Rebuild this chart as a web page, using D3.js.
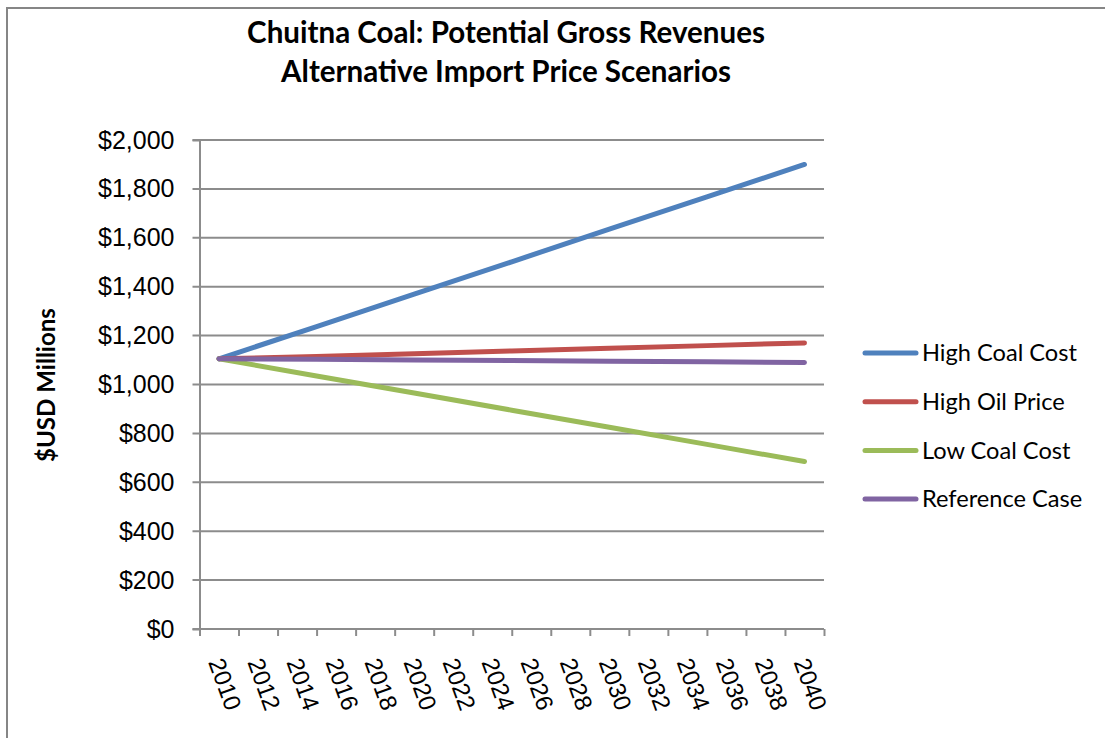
<!DOCTYPE html>
<html>
<head>
<meta charset="utf-8">
<script src="https://cdn.jsdelivr.net/npm/d3@7"></script>
<style>
  body { margin: 0; background: #fff; }
  svg { display: block; }
</style>
</head>
<body>
<div id="chart"></div>
<script>
// Data
var years = [2010, 2015, 2020, 2025, 2030, 2035, 2040];
var highCoal = [1105, 1237, 1370, 1502, 1635, 1767, 1900];
var highOil = [1105, 1115, 1126, 1137, 1148, 1159, 1170];
var lowCoal = [1105, 1035, 965, 895, 825, 755, 685];
var referenceCase = [1105, 1103, 1100, 1098, 1095, 1093, 1090];
var seriesNames = ["High Coal Cost", "High Oil Price", "Low Coal Cost", "Reference Case"];
var seriesColors = ["#4f81bd", "#c0504d", "#9bbb59", "#8064a2"];
var yTicks = [0, 200, 400, 600, 800, 1000, 1200, 1400, 1600, 1800, 2000];
var xLabels = d3.range(2010, 2041, 2);
var xTickYears = d3.range(2009, 2042, 2);

var series = [highCoal, highOil, lowCoal, referenceCase].map(function(vals, i) {
	return { name: seriesNames[i], color: seriesColors[i],
		points: vals.map(function(v, j) { return { year: years[j], v: v }; }) };
});

var cfg = {
	width: 1105,
	height: 738,
	left: 199.5,
	right: 824,
	top: 140,
	bottom: 629
};

var svg = d3.select("#chart").append("svg")
	.attr("width", cfg.width)
	.attr("height", cfg.height);

// outer chart border (right and bottom run off the picture)
svg.append("rect")
	.attr("x", 7).attr("y", 8)
	.attr("width", 1200).attr("height", 900)
	.attr("fill", "none")
	.attr("stroke", "#868686")
	.attr("stroke-width", 2);

var x = d3.scaleLinear().domain([2009, 2041]).range([cfg.left, cfg.right]);
var y = d3.scaleLinear().domain([0, 2000]).range([cfg.bottom, cfg.top]);

// fit a text element to a target width by changing its font size
function fitWidth(sel, target) {
	sel.each(function() {
		var fs = parseFloat(d3.select(this).style("font-size"));
		var w = this.getComputedTextLength();
		d3.select(this).style("font-size", (fs * target / w) + "px");
	});
}

// title
var title = svg.append("g")
	.attr("font-family", "Lato, 'Open Sans', sans-serif")
	.attr("font-weight", "bold")
	.attr("text-anchor", "middle");
fitWidth(title.append("text").attr("x", 506).attr("y", 43).style("font-size", "26px")
	.text("Chuitna Coal: Potential Gross Revenues"), 518);
fitWidth(title.append("text").attr("x", 506).attr("y", 82).style("font-size", "26px")
	.text("Alternative Import Price Scenarios"), 450);

// horizontal gridlines
svg.append("g")
	.selectAll("line")
	.data(yTicks)
	.enter().append("line")
	.attr("x1", cfg.left - 7)
	.attr("x2", cfg.right)
	.attr("y1", function(d) { return y(d); })
	.attr("y2", function(d) { return y(d); })
	.attr("stroke", "#8c8c8c")
	.attr("stroke-width", 2);

// y axis
var yAxis = svg.append("g")
	.attr("transform", "translate(" + cfg.left + ",0)")
	.call(d3.axisLeft(y).tickValues(yTicks).tickSize(7).tickPadding(18)
		.tickFormat(function(d) { return "$" + d3.format(",")(d); }));
yAxis.select(".domain").attr("stroke", "#8c8c8c").attr("stroke-width", 2);
yAxis.selectAll(".tick line").attr("stroke", "none");
yAxis.selectAll("text")
	.attr("font-family", "'Liberation Sans', Arial, sans-serif")
	.attr("font-size", "25px")
	.attr("fill", "#000");

// x axis
var xAxis = svg.append("g")
	.attr("transform", "translate(0," + cfg.bottom + ")")
	.call(d3.axisBottom(x).tickValues(xTickYears).tickSize(7).tickFormat(""));
xAxis.select(".domain").attr("stroke", "#8c8c8c").attr("stroke-width", 2)
	.attr("d", "M" + cfg.left + ",0H" + cfg.right);
xAxis.selectAll(".tick line").attr("stroke", "#8c8c8c").attr("stroke-width", 2);

svg.append("g")
	.selectAll("text")
	.data(xLabels)
	.enter().append("text")
	.attr("transform", function(d) { return "translate(" + (x(d) - 3) + ",659) rotate(70)"; })
	.attr("dy", "0.35em")
	.attr("font-family", "'Liberation Sans', Arial, sans-serif")
	.attr("font-size", "24px")
	.attr("fill", "#000")
	.text(function(d) { return d; });

// y axis title
var yTitle = svg.append("text")
	.attr("transform", "translate(55,385) rotate(-90)")
	.attr("text-anchor", "middle")
	.attr("font-family", "Lato, 'Open Sans', sans-serif")
	.attr("font-weight", "bold")
	.style("font-size", "20px")
	.text("$USD Millions");
fitWidth(yTitle, 154);

// series lines
var line = d3.line()
	.x(function(d) { return x(d.year); })
	.y(function(d) { return y(d.v); });

svg.append("g")
	.selectAll("path")
	.data(series)
	.enter().append("path")
	.attr("d", function(d) { return line(d.points); })
	.attr("fill", "none")
	.attr("stroke", function(d) { return d.color; })
	.attr("stroke-width", 5)
	.attr("stroke-linecap", "round")
	.attr("stroke-linejoin", "round");

// legend
var legend = svg.append("g")
	.selectAll("g")
	.data(series)
	.enter().append("g")
	.attr("transform", function(d, i) { return "translate(0," + (353 + i * 48.7) + ")"; });
legend.append("line")
	.attr("x1", 865).attr("x2", 916)
	.attr("stroke", function(d) { return d.color; })
	.attr("stroke-width", 5)
	.attr("stroke-linecap", "round");
var legText = legend.append("text")
	.attr("x", 922)
	.attr("dy", "0.35em")
	.attr("font-family", "Lato, 'Open Sans', sans-serif")
	.style("font-size", "22px")
	.text(function(d) { return d.name; });
fitWidth(legText.filter(function(d, i) { return i === 0; }), 155);
var legSize = legText.filter(function(d, i) { return i === 0; }).style("font-size");
legText.style("font-size", legSize);
</script>
</body>
</html>
